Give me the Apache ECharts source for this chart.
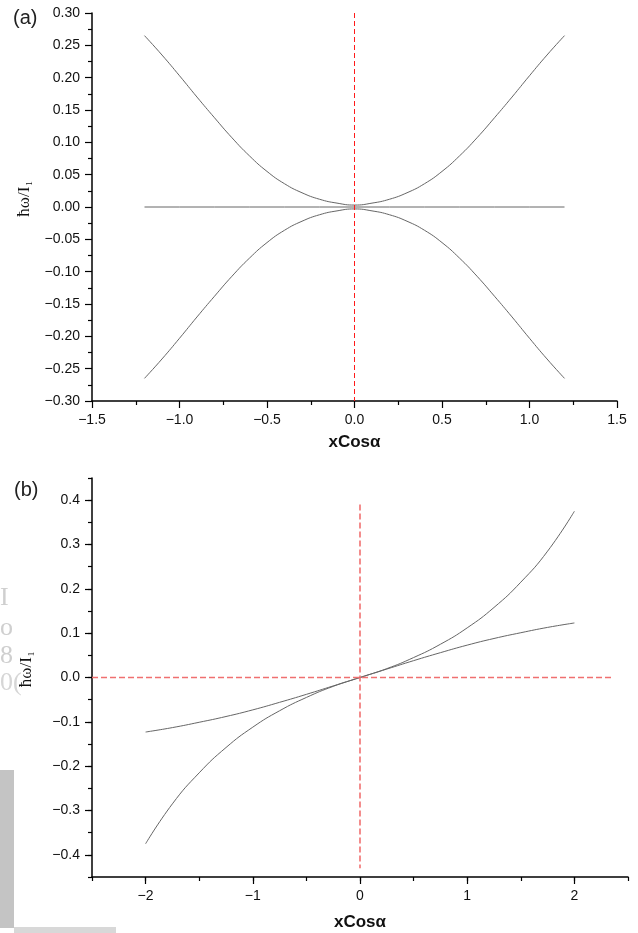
<!DOCTYPE html>
<html lang="en">
<head>
    <meta charset="utf-8">
    <title>xCosα</title>
    <script type="text/javascript" src="https://cdn.jsdelivr.net/npm/echarts@6/dist/echarts.min.js"></script>
    <style>
        html, body { margin: 0; padding: 0; background: #fff; }
    </style>
</head>
<body>
<div id="main" style="width: 638px;height:933px;"></div>
<script type="text/javascript">
    // 图 (a) 数据
    var xA = [-1.2, -1.1, -1.0, -0.9, -0.8, -0.7, -0.6, -0.5, -0.4, -0.3, -0.2, -0.1, 0, 0.1, 0.2, 0.3, 0.4, 0.5, 0.6, 0.7, 0.8, 0.9, 1.0, 1.1, 1.2];
    var upperA = [0.265, 0.235, 0.203, 0.170, 0.138, 0.107, 0.079, 0.055, 0.036, 0.022, 0.012, 0.006, 0.003, 0.006, 0.012, 0.022, 0.036, 0.055, 0.079, 0.107, 0.138, 0.170, 0.203, 0.235, 0.265];
    var lowerA = [-0.265, -0.235, -0.203, -0.170, -0.138, -0.107, -0.079, -0.055, -0.036, -0.022, -0.012, -0.006, -0.003, -0.006, -0.012, -0.022, -0.036, -0.055, -0.079, -0.107, -0.138, -0.170, -0.203, -0.235, -0.265];
    var flatA = [0, 0, 0, 0, 0, 0, 0, 0, 0, 0, 0, 0, 0, 0, 0, 0, 0, 0, 0, 0, 0, 0, 0, 0, 0];
    var vLineA = [[0, 0.30], [0, -0.30]];

    // 图 (b) 数据
    var xB = [-2.0, -1.75, -1.5, -1.25, -1.0, -0.75, -0.5, -0.25, 0, 0.25, 0.5, 0.75, 1.0, 1.25, 1.5, 1.75, 2.0];
    var steepB = [-0.375, -0.285, -0.215, -0.158, -0.112, -0.075, -0.045, -0.020, 0, 0.020, 0.045, 0.075, 0.112, 0.158, 0.215, 0.285, 0.375];
    var shallowB = [-0.123, -0.113, -0.101, -0.088, -0.073, -0.056, -0.038, -0.019, 0, 0.019, 0.038, 0.056, 0.073, 0.088, 0.101, 0.113, 0.123];
    var vLineB = [[0, 0.39], [0, -0.43]];
    var hLineB = [[-2.5, 0], [2.35, 0]];
    var majorTicksXB = [-2, -1, 0, 1, 2];
    var majorTicksYB = [-0.4, -0.3, -0.2, -0.1, 0, 0.1, 0.2, 0.3, 0.4];

    function pairs(xs, ys) {
        return xs.map(function (x, i) { return [x, ys[i]]; });
    }
    function minus(s) { return s.replace('-', '\u2212'); }
    function makeLabel(fmt, margin) {
        return { show: true, margin: margin, showMinLabel: true, showMaxLabel: true, formatter: fmt,
            color: '#111', fontSize: 14, fontFamily: 'Liberation Sans' };
    }

    var axisLine = { show: true, onZero: false, lineStyle: { color: '#000', width: 1.5 } };
    var hiddenLine = { show: false, onZero: false };
    var axisTick = { show: true, inside: false, length: 7, lineStyle: { color: '#000', width: 1.2 } };
    var shortTick = { show: true, inside: false, length: 4, lineStyle: { color: '#000', width: 1.2 } };
    var minorTick = { show: true, splitNumber: 2, length: 4, lineStyle: { color: '#000', width: 1.2 } };
    var xName = { fontSize: 17, fontWeight: 'bold', color: '#111', fontFamily: 'Liberation Sans' };
    var yName = {
        padding: [0, 0, 0, 16],
        rich: {
            a: { fontSize: 17, fontFamily: 'Liberation Serif', color: '#111' },
            s: { fontSize: 9, fontFamily: 'Liberation Serif', color: '#111', padding: [9, 0, 0, 1] }
        }
    };
    var curveStyle = { color: '#666', width: 1 };
    var redA = { color: '#ff1a1a', width: 1, type: [5, 3] };
    var redB = { color: '#f07070', width: 1.6, type: [6, 3] };

    var myChart = echarts.init(document.getElementById('main'));

    var option = {
        animation: false,
        backgroundColor: '#fff',
        title: [
            { text: '(a)', left: 8, top: 3, textStyle: { fontSize: 20, fontWeight: 'normal', color: '#222', fontFamily: 'Liberation Sans' } },
            { text: '(b)', left: 9, top: 475, textStyle: { fontSize: 20, fontWeight: 'normal', color: '#222', fontFamily: 'Liberation Sans' } }
        ],
        grid: [
            { left: 92, top: 13, width: 525, height: 388 },
            { left: 92, top: 478, width: 536, height: 399 }
        ],
        xAxis: [
            {
                gridIndex: 0, type: 'value', min: -1.5, max: 1.5, interval: 0.5,
                name: 'xCos\u03b1', nameLocation: 'middle', nameGap: 33, nameTextStyle: xName,
                axisLine: axisLine, axisTick: axisTick, minorTick: minorTick, splitLine: { show: false },
                axisLabel: makeLabel(function (v) { return minus(v.toFixed(1)); }, 12)
            },
            {
                gridIndex: 1, type: 'value', min: -2.5, max: 2.5, interval: 0.5,
                name: 'xCos\u03b1', nameLocation: 'middle', nameGap: 37, nameTextStyle: xName,
                axisLine: axisLine, axisTick: shortTick, splitLine: { show: false },
                axisLabel: makeLabel(function (v) {
                    return Math.abs(v - Math.round(v)) < 1e-6 ? minus(Math.round(v).toString()) : '';
                }, 12)
            },
            {
                gridIndex: 1, type: 'value', min: -2.5, max: 2.5, position: 'bottom',
                axisLine: hiddenLine, axisLabel: { show: false }, splitLine: { show: false },
                axisTick: { show: true, length: 7, customValues: majorTicksXB, lineStyle: { color: '#000', width: 1.2 } }
            }
        ],
        yAxis: [
            {
                gridIndex: 0, type: 'value', min: -0.3, max: 0.3, interval: 0.05,
                name: '{a|\u0127\u03c9/I}{s|1}', nameLocation: 'middle', nameGap: 56, nameRotate: 90, nameTextStyle: yName,
                axisLine: axisLine, axisTick: axisTick, minorTick: minorTick, splitLine: { show: false },
                axisLabel: makeLabel(function (v) { return minus(v.toFixed(2)); }, 12)
            },
            {
                gridIndex: 1, type: 'value', min: -0.45, max: 0.45, interval: 0.05,
                name: '{a|\u0127\u03c9/I}{s|1}', nameLocation: 'middle', nameGap: 56, nameRotate: 90, nameTextStyle: yName,
                axisLine: axisLine, axisTick: shortTick, splitLine: { show: false },
                axisLabel: makeLabel(function (v) {
                    return Math.round(Math.abs(v) * 100) % 10 === 0 ? minus(v.toFixed(1)) : '';
                }, 12)
            },
            {
                gridIndex: 1, type: 'value', min: -0.45, max: 0.45, position: 'left',
                axisLine: hiddenLine, axisLabel: { show: false }, splitLine: { show: false },
                axisTick: { show: true, length: 7, customValues: majorTicksYB, lineStyle: { color: '#000', width: 1.2 } }
            }
        ],
        graphic: [
            { type: 'rect', left: 0, top: 770, shape: { width: 14, height: 158 }, style: { fill: '#c4c4c4' }, silent: true },
            { type: 'rect', left: 14, top: 927, shape: { width: 102, height: 6 }, style: { fill: '#d8d8d8' }, silent: true },
            { type: 'text', left: 0, top: 585, style: { text: 'I', fill: '#cfcfcf', font: '26px Liberation Serif' }, silent: true },
            { type: 'text', left: 0, top: 615, style: { text: 'o', fill: '#cfcfcf', font: '26px Liberation Serif' }, silent: true },
            { type: 'text', left: 0, top: 643, style: { text: '8', fill: '#cfcfcf', font: '26px Liberation Serif' }, silent: true },
            { type: 'text', left: 0, top: 670, style: { text: '0(', fill: '#d6d6d6', font: '26px Liberation Serif' }, silent: true }
        ],
        series: [
            { type: 'line', xAxisIndex: 0, yAxisIndex: 0, data: pairs(xA, upperA), smooth: true, showSymbol: false, lineStyle: curveStyle },
            { type: 'line', xAxisIndex: 0, yAxisIndex: 0, data: pairs(xA, lowerA), smooth: true, showSymbol: false, lineStyle: curveStyle },
            { type: 'line', xAxisIndex: 0, yAxisIndex: 0, data: pairs(xA, flatA), showSymbol: false, lineStyle: curveStyle },
            { type: 'line', xAxisIndex: 0, yAxisIndex: 0, data: vLineA, showSymbol: false, lineStyle: redA },
            { type: 'line', xAxisIndex: 1, yAxisIndex: 1, data: pairs(xB, steepB), smooth: true, showSymbol: false, lineStyle: curveStyle },
            { type: 'line', xAxisIndex: 1, yAxisIndex: 1, data: pairs(xB, shallowB), smooth: true, showSymbol: false, lineStyle: curveStyle },
            { type: 'line', xAxisIndex: 1, yAxisIndex: 1, data: vLineB, showSymbol: false, lineStyle: redB },
            { type: 'line', xAxisIndex: 1, yAxisIndex: 1, data: hLineB, showSymbol: false, lineStyle: redB }
        ]
    };

    myChart.setOption(option);
</script>
</body>
</html>
